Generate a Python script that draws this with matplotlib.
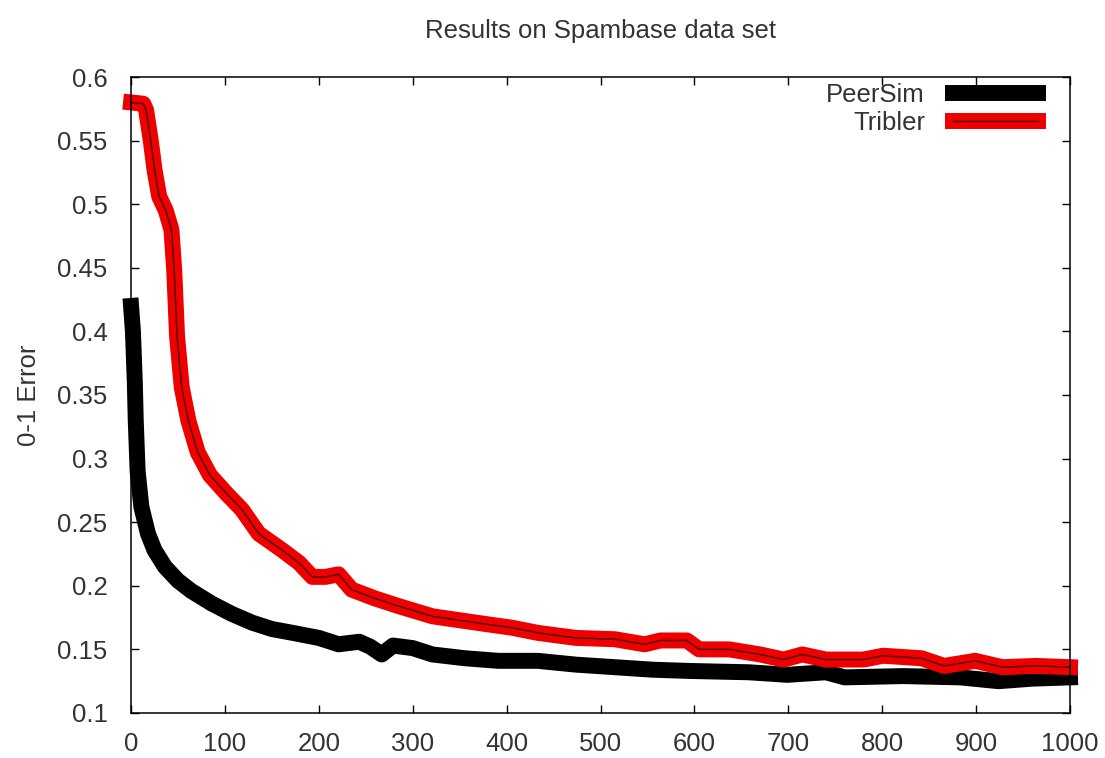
import matplotlib
import matplotlib.pyplot as plt
from matplotlib.legend_handler import HandlerTuple

matplotlib.use("Agg")

# PeerSim (black)
peersim_x = [0, 2, 4, 5, 7, 11, 18, 25, 36, 50, 64, 86, 107, 129, 150, 172,
             200, 221, 243, 255, 267, 279, 300, 321, 356, 391, 433, 474, 515,
             556, 597, 658, 699, 740, 760, 822, 883, 924, 960, 1000]
peersim_y = [0.420, 0.400, 0.360, 0.330, 0.290, 0.262, 0.241, 0.228, 0.215,
             0.204, 0.196, 0.186, 0.178, 0.171, 0.166, 0.163, 0.159, 0.154,
             0.156, 0.152, 0.146, 0.153, 0.151, 0.146, 0.143, 0.141, 0.141,
             0.138, 0.136, 0.134, 0.133, 0.132, 0.130, 0.132, 0.128, 0.129,
             0.128, 0.125, 0.127, 0.128]

# Tribler (red)
tribler_x = [0, 13, 16, 21, 25, 30, 37, 43, 46, 49, 54, 61, 71, 84, 101, 118,
             136, 161, 179, 193, 207, 221, 235, 260, 285, 321, 349, 377, 406,
             433, 474, 515, 547, 564, 592, 605, 637, 670, 695, 715, 740, 780,
             801, 842, 866, 899, 928, 964, 1000]
tribler_y = [0.580, 0.579, 0.574, 0.550, 0.527, 0.506, 0.495, 0.480, 0.448,
             0.396, 0.356, 0.330, 0.305, 0.287, 0.273, 0.260, 0.241, 0.228,
             0.218, 0.207, 0.207, 0.209, 0.197, 0.190, 0.184, 0.176, 0.173,
             0.170, 0.167, 0.163, 0.159, 0.158, 0.154, 0.157, 0.157, 0.150,
             0.150, 0.146, 0.142, 0.146, 0.142, 0.142, 0.145, 0.143, 0.137,
             0.141, 0.136, 0.137, 0.136]

x_ticks = [0, 100, 200, 300, 400, 500, 600, 700, 800, 900, 1000]
y_ticks = [0.1, 0.15, 0.2, 0.25, 0.3, 0.35, 0.4, 0.45, 0.5, 0.55, 0.6]
y_tick_labels = ["0.1", "0.15", "0.2", "0.25", "0.3", "0.35", "0.4", "0.45",
                 "0.5", "0.55", "0.6"]

plt.rcParams["font.family"] = ["Liberation Sans", "DejaVu Sans"]
TEXT_COLOR = "#333333"
FS = 18.5
LW = 11.5

fig = plt.figure(figsize=(11.05, 7.58), dpi=100)
ax = fig.add_axes([0.1186, 0.0594, 0.8497, 0.839])

black_line, = ax.plot(peersim_x, peersim_y, color="black", lw=LW,
                      solid_capstyle="projecting", clip_on=False)
red_line, = ax.plot(tribler_x, tribler_y, color="#ee0000", lw=LW,
                    solid_capstyle="projecting", clip_on=False)
inner_line, = ax.plot(tribler_x, tribler_y, color="#4a0000", lw=1.0,
                      clip_on=False)

ax.set_xlim(0, 1000)
ax.set_ylim(0.1, 0.6)
ax.set_xticks(x_ticks)
ax.set_yticks(y_ticks)
ax.set_yticklabels(y_tick_labels)

# gnuplot look: ticks inside, on all four sides
ax.tick_params(direction="in", length=6, width=1, top=True, right=True,
               labelsize=FS, labelcolor=TEXT_COLOR)
ax.tick_params(axis="y", pad=17)
ax.tick_params(axis="x", pad=14)
for spine in ax.spines.values():
    spine.set_linewidth(1.1)

ax.set_title("Results on Spambase data set", fontsize=FS, color=TEXT_COLOR,
             pad=28)
ax.set_ylabel("0-1 Error", fontsize=FS, color=TEXT_COLOR, labelpad=12)

ax.legend([black_line, (red_line, inner_line)], ["PeerSim", "Tribler"],
          handler_map={tuple: HandlerTuple(ndivide=1, pad=0)},
          loc="upper right", bbox_to_anchor=(0.966, 0.99), frameon=False,
          markerfirst=False, fontsize=FS, handlelength=3.3,
          handletextpad=1.1, labelspacing=0.15, borderpad=0,
          borderaxespad=0, labelcolor=TEXT_COLOR)

plt.savefig("out.png", dpi=100)
plt.close(fig)
